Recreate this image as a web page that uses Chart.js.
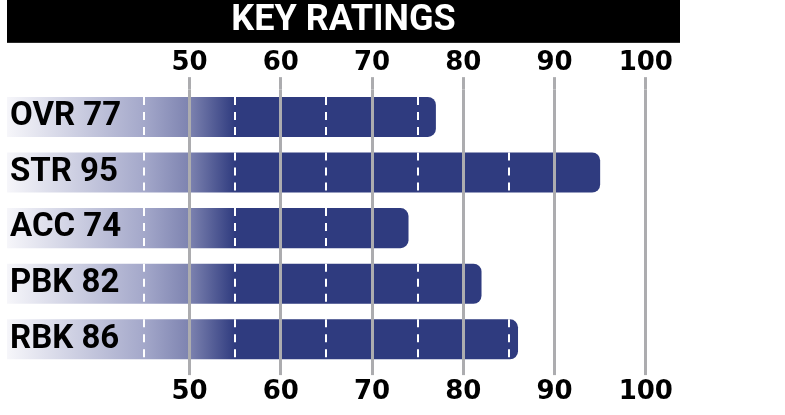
<!DOCTYPE html>
<html>
<head>
<meta charset="utf-8">
<script src="https://cdn.jsdelivr.net/npm/chart.js@4"></script>
<style>
  html, body { margin: 0; padding: 0; background: #fff; }
  #wrap { width: 785px; height: 415px; }
</style>
</head>
<body>
<div id="wrap"><canvas id="ratingsChart" width="785" height="415"></canvas></div>
<script>
/* ================= DATA ================= */
const titleText = "KEY RATINGS";
const labels = ["OVR 77", "STR 95", "ACC 74", "PBK 82", "RBK 86"];
const ratings = [77, 95, 74, 82, 86];
const tickValues = [50, 60, 70, 80, 90, 100];
const dashValues = [45, 55, 65, 75, 85, 95];

/* ================= STYLE ================= */
const NAVY = "#2f3b7f";
const GRID = "#acacaf";
const labelFont = "'Liberation Sans Narrow', Roboto, sans-serif";
const tickFont = "'DejaVu Sans', sans-serif";

function barGradient(ctx) {
  const chart = ctx.chart;
  const xs = chart.scales.x;
  if (!chart.chartArea || !xs) return NAVY;
  const x0 = xs.getPixelForValue(30);
  const x1 = xs.getPixelForValue(55);
  const g = chart.ctx.createLinearGradient(x0, 0, x1, 0);
  g.addColorStop(0, "#f6f6fa");
  g.addColorStop(0.6, "#a4a8ca");
  g.addColorStop(0.8, "#7d83b0");
  g.addColorStop(1, NAVY);
  return g;
}

/* ================= PLUGINS ================= */
const titleBar = {
  id: "titleBar",
  beforeDraw(chart) {
    const tb = chart.titleBlock;
    if (!tb) return;
    const c = chart.ctx;
    c.save();
    c.fillStyle = "#000";
    c.fillRect(tb.left, tb.top, tb.width, tb.height);
    c.restore();
  }
};

const barDashes = {
  id: "barDashes",
  afterDatasetsDraw(chart) {
    const c = chart.ctx;
    const xs = chart.scales.x;
    const meta = chart.getDatasetMeta(0);
    c.save();
    c.strokeStyle = "#fff";
    c.lineWidth = 2;
    c.setLineDash([8, 7]);
    meta.data.forEach((bar, i) => {
      const { y, height } = bar.getProps(["y", "height"], true);
      dashValues.forEach(v => {
        if (v >= ratings[i] - 0.5) return;
        const px = Math.round(xs.getPixelForValue(v));
        c.beginPath();
        c.moveTo(px, y - height / 2);
        c.lineTo(px, y + height / 2);
        c.stroke();
      });
    });
    c.restore();
  }
};

/* ================= CHART ================= */
const xCommon = {
  type: "linear",
  min: 30,
  max: 103.75,
  afterBuildTicks: s => { s.ticks = tickValues.map(v => ({ value: v })); },
  border: { display: false },
  ticks: {
    color: "#000",
    z: 1,
    font: { family: tickFont, size: 26, weight: "bold", lineHeight: 1.2 }
  }
};

new Chart(document.getElementById("ratingsChart"), {
  type: "bar",
  data: {
    labels: labels,
    datasets: [{
      data: ratings,
      backgroundColor: barGradient,
      borderRadius: 8,
      borderSkipped: "start",
      barPercentage: 0.72,
      categoryPercentage: 1
    }]
  },
  options: {
    indexAxis: "y",
    responsive: false,
    animation: false,
    events: [],
    layout: { padding: { left: 7, right: 105, top: 0, bottom: 0 } },
    plugins: {
      legend: { display: false },
      tooltip: { enabled: false },
      title: {
        display: true,
        text: titleText,
        color: "#fff",
        padding: 0,
        font: { family: labelFont, size: 36, weight: "bold", lineHeight: 1.19 }
      }
    },
    scales: {
      x: Object.assign({}, xCommon, {
        position: "bottom",
        afterFit: s => { s.height = 47.9; },
        grid: {
          z: 1, color: GRID, lineWidth: 3, drawTicks: true,
          tickLength: 8, tickColor: GRID, tickWidth: 3
        },
        ticks: Object.assign({}, xCommon.ticks, { padding: 2 })
      }),
      x2: Object.assign({}, xCommon, {
        position: "top",
        afterFit: s => { s.height = 46.3; },
        grid: {
          z: 1, drawOnChartArea: false, color: GRID, lineWidth: 3, drawTicks: true,
          tickLength: 12, tickColor: GRID, tickWidth: 3
        },
        ticks: Object.assign({}, xCommon.ticks, { padding: -2 })
      }),
      y: {
        type: "category",
        position: "left",
        offset: true,
        afterFit: s => { s.width = 0; },
        grid: { display: false },
        border: { display: false },
        ticks: {
          z: 2,
          mirror: true,
          padding: 3,
          color: "#000",
          font: { family: labelFont, size: 33, weight: "bold" }
        }
      }
    }
  },
  plugins: [titleBar, barDashes]
});
</script>
</body>
</html>
